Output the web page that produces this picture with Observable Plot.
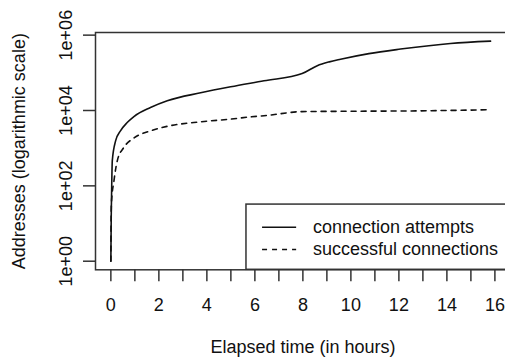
<!DOCTYPE html>
<html><head><meta charset="utf-8">
<script src="https://cdn.jsdelivr.net/npm/d3@7"></script>
<script src="https://cdn.jsdelivr.net/npm/@observablehq/plot@0.6"></script>
<style>html,body{margin:0;padding:0;background:#fff;overflow:hidden}</style>
</head><body><div id="chart"></div>
<script>
// connection attempts (cumulative addresses)
const attemptHours  = [0, 0.015, 0.03, 0.06, 0.2, 0.4, 0.68, 0.96, 1.65, 2.35, 3.74, 4.99, 6.38, 7.97, 8.6, 9.1, 9.57, 10.75, 12.07, 14.15, 15.82];
const attemptCounts = [1, 15, 62, 468, 1585, 2884, 4786, 6918, 12023, 18197, 29512, 42658, 61660, 95499, 154882, 195000, 229087, 323594, 426580, 602560, 691831];
// successful connections
const successHours  = [0, 0.02, 0.13, 0.27, 0.54, 0.96, 1.65, 2.35, 3.74, 4.99, 5.82, 6.38, 7.97, 9.99, 12.77, 15.8];
const successCounts = [1, 32, 138, 468, 1047, 1862, 2884, 3802, 5012, 5900, 6761, 7244, 9333, 9550, 9772, 10471];

const seriesNames = ["connection attempts", "successful connections"];
const xTicks = [0,1,2,3,4,5,6,7,8,9,10,11,12,13,14,15,16];
const xTickLabels = ["0","","2","","4","","6","","8","","10","","12","","14","","16"];
const yTicks = [1, 100, 10000, 1000000];
const yTickLabels = ["1e+00", "1e+02", "1e+04", "1e+06"];
const xTitle = "Elapsed time (in hours)";
const yTitle = "Addresses (logarithmic scale)";

const attempts = attemptHours.map((h, i) => ({h, v: attemptCounts[i]}));
const successes = successHours.map((h, i) => ({h, v: successCounts[i]}));

const font = "'Liberation Sans', Arial, Helvetica, sans-serif";
const ink = "#333";
const yMin = 10 ** -0.228, yMax = 10 ** 6.07;

const plot = Plot.plot({
  width: 505, height: 361,
  marginLeft: 95, marginRight: -5, marginTop: 32, marginBottom: 91.7,
  style: {fontFamily: font, fontSize: "18px", background: "#fff", color: "#111", overflow: "hidden"},
  x: {domain: [-0.64, 16.65], axis: null},
  y: {type: "log", domain: [yMin, yMax], axis: null},
  marks: [
    Plot.line(attempts, {x: "h", y: "v", stroke: "#111", strokeWidth: 1.6, curve: "monotone-x"}),
    Plot.line(successes, {x: "h", y: "v", stroke: "#111", strokeWidth: 1.6, strokeDasharray: "5,5", curve: "monotone-x"}),
    // legend
    Plot.rect([0], {x1: 5.65, x2: 17.5, y1: yMin, y2: 10 ** 1.503, fill: "white", stroke: ink, strokeWidth: 1.5}),
    Plot.ruleY([0], {y: 10 ** 0.901, x1: 6.32, x2: 7.74, stroke: "#111", strokeWidth: 1.5}),
    Plot.ruleY([0], {y: 10 ** 0.31, x1: 6.32, x2: 7.74, stroke: "#111", strokeWidth: 1.5, strokeDasharray: "5,5"}),
    Plot.text([seriesNames[0]], {x: 8.42, y: 10 ** 0.901, text: d => d, textAnchor: "start", fontSize: 18, fill: "#111"}),
    Plot.text([seriesNames[1]], {x: 8.42, y: 10 ** 0.31, text: d => d, textAnchor: "start", fontSize: 18, fill: "#111"}),
    // axes
    Plot.axisX({ticks: xTicks, label: null, tickFormat: d => xTickLabels[xTicks.indexOf(d)], tickSize: 12, tickPadding: 16.5, fontSize: 18, stroke: ink, strokeWidth: 1.5, fill: "#111"}),
    Plot.axisY({ticks: yTicks, label: null, tickFormat: d => yTickLabels[yTicks.indexOf(d)], tickRotate: -90, tickSize: 12, tickPadding: 12, fontSize: 18, stroke: ink, strokeWidth: 1.5, fill: "#111"}),
    Plot.text([xTitle], {frameAnchor: "bottom", text: d => d, textAnchor: "middle", dy: 83, fontSize: 18, fill: "#111"}),
    Plot.text([yTitle], {frameAnchor: "left", text: d => d, textAnchor: "middle", rotate: -90, dx: -75.8, fontSize: 18, fill: "#111"}),
    Plot.frame({stroke: ink, strokeWidth: 1.5})
  ]
});
document.getElementById("chart").append(plot);
</script>
</body></html>
